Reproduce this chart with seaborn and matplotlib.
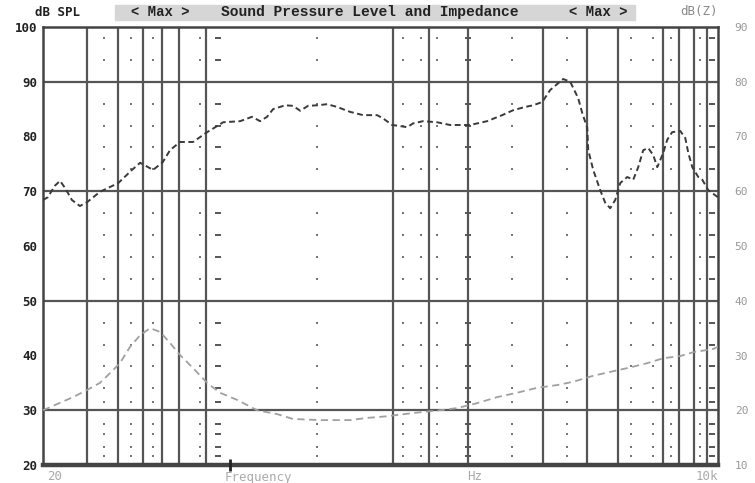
import numpy as np
import pandas as pd
import matplotlib
matplotlib.use("Agg")
import matplotlib.pyplot as plt
from matplotlib.patches import Rectangle
import seaborn as sns

# sound pressure level curve (Hz, dB)
spl_freq = [20, 20.9, 22.3, 23.4, 24.5, 26.1, 28.1, 30, 33.8, 40, 45.4, 48.9, 55.1,
            60.2, 64.4, 70.6, 79.6, 90.7, 99.3, 105, 122.8, 137, 147.6, 157.4, 166.4,
            185.9, 200, 213.4, 229.6, 250, 273.5, 300, 338, 381, 433.6, 458, 498,
            536, 571.5, 604, 662, 753, 849, 906, 1021, 1140, 1194, 1371, 1517, 1694,
            1824, 1982, 2134, 2404, 2565, 2760, 2865, 3000, 3028, 3170, 3381, 3540,
            3707, 3882, 4065, 4336, 4582, 4798, 5024, 5261, 5509, 5717, 6039, 6266,
            6561, 7067, 7400, 7608, 7893, 8341, 8655, 9142, 10000]
spl_db = [68.4, 68.9, 71.0, 71.9, 70.6, 68.4, 67.3, 68.0, 69.9, 71.5, 73.9, 75.2, 73.9,
          75.3, 77.5, 79.0, 79.0, 80.8, 81.9, 82.6, 82.8, 83.6, 82.8, 83.6, 85.0,
          85.7, 85.6, 84.7, 85.6, 85.7, 85.9, 85.4, 84.5, 83.9, 83.9, 83.3, 82.1,
          81.9, 81.7, 82.4, 82.8, 82.6, 82.1, 82.1, 82.1, 82.6, 82.8, 83.9, 84.8, 85.4,
          85.7, 86.3, 88.5, 90.5, 90.0, 87.0, 84.3, 81.6, 77.5, 73.9, 70.2, 67.9,
          66.9, 68.4, 71.5, 72.6, 72.1, 74.4, 77.5, 77.9, 76.6, 74.4, 77.0, 79.4,
          80.8, 81.0, 79.7, 77.0, 74.4, 72.6, 72.1, 70.2, 68.9]

# impedance curve (plotted on the same dB scale)
imp_freq = [20, 22.7, 26.4, 30, 33.8, 37.1, 40.6, 44.6, 48.9, 53.6, 58.8, 64.4, 70.6,
            79.6, 90.7, 102, 119.4, 143.6, 172.6, 200, 256.5, 338, 395.6, 475.4, 604,
            774, 906, 1089, 1309, 1574, 1892, 2275, 2636, 3170, 3707, 4336, 5213,
            6039, 7067, 7962, 9572, 10000]
imp_db = [30.0, 31.1, 32.4, 33.7, 35.0, 36.8, 38.6, 41.6, 43.7, 45.0, 44.3, 42.3, 40.1,
          37.7, 35.0, 33.2, 31.9, 30.0, 29.3, 28.4, 28.2, 28.2, 28.6, 28.9, 29.5,
          30.0, 30.4, 31.3, 32.4, 33.2, 34.1, 34.6, 35.2, 36.3, 37.0, 37.7, 38.6,
          39.5, 39.9, 40.6, 41.2, 41.6]

# grid as drawn by the analyser
grid_freqs = [30, 40, 50, 60, 70, 90, 500, 700, 1000, 2000, 3000, 4000, 6000, 7000, 8000, 9000]
grid_db = [90, 70, 50, 30]
dot_freqs = [35, 45, 55, 85, 250, 550, 650, 750, 1500, 2500, 4500, 5500, 6500, 8500]
dash_freqs = [100, 1000, 9500]
dot_db = [98, 94, 86, 82, 78, 74, 66, 62, 58, 54, 46, 42, 38, 34, 31.5, 27.5, 25.7, 23.3, 21.6]
left_ticks = [100, 90, 80, 70, 60, 50, 40, 30, 20]
right_labels = ["90", "80", "70", "60", "50", "40", "30", "20", "10"]
cursor_freq = 112

sns.set_style("white")
plt.rcParams['font.family'] = ['DejaVu Sans Mono', 'DejaVu Sans']

fig = plt.figure(figsize=(7.55, 4.83), dpi=100)
ax = fig.add_axes([43 / 755, 18 / 483, 675 / 755, 438 / 483])

grid_col = "#555555"
for f in grid_freqs:
    ax.axvline(f, color=grid_col, lw=1.6, zorder=1)
for d in grid_db:
    ax.axhline(d, color=grid_col, lw=1.6, zorder=1)

# dotted minor grid (dots at intersections)
dx, dy = np.meshgrid(dot_freqs, dot_db)
ax.scatter(dx.ravel(), dy.ravel(), s=2.5, marker='s', color="#777777", lw=0, zorder=1)
mx, my = np.meshgrid(dash_freqs, dot_db)
ax.scatter(mx.ravel(), my.ravel(), s=20, marker='_', color="#555555", lw=1.4, zorder=1)

spl = pd.DataFrame({"freq": spl_freq, "db": spl_db})
imp = pd.DataFrame({"freq": imp_freq, "db": imp_db})
sns.lineplot(data=spl, x="freq", y="db", ax=ax, color="#3a3a3a", lw=1.4,
             linestyle=(0, (3, 1.8)), zorder=3)
sns.lineplot(data=imp, x="freq", y="db", ax=ax, color="#a0a0a0", lw=1.3,
             linestyle=(0, (4, 2.5)), zorder=3)

ax.set_xscale("log")
ax.set_xlim(20, 10000)
ax.set_ylim(20, 100)
ax.set_xlabel("")
ax.set_ylabel("")
ax.set_xticks([])
ax.set_xticks([], minor=True)
ax.set_yticks(left_ticks)
ax.set_yticklabels([str(v) for v in left_ticks], fontsize=9, fontweight="bold", color="#222222")
ax.tick_params(axis="y", length=0, pad=4)
for side in ["left", "right", "top"]:
    ax.spines[side].set_color("#444444")
    ax.spines[side].set_linewidth(1.8)
ax.spines["bottom"].set_color("#444444")
ax.spines["bottom"].set_linewidth(3.2)

# cursor mark on the frequency axis
ax.plot([cursor_freq], [20], marker="|", markersize=9, mew=2, color="#222222",
        clip_on=False, zorder=5)

# right-hand impedance scale
ax2 = ax.twinx()
ax2.set_ylim(20, 100)
ax2.set_yticks(left_ticks)
ax2.set_yticklabels(right_labels, fontsize=8, color="#999999")
ax2.tick_params(axis="y", length=0, pad=12)
for s in ax2.spines.values():
    s.set_visible(False)

# header band
fig.patches.append(Rectangle((115 / 755, 1 - 20 / 483), 520 / 755, 15 / 483,
                             transform=fig.transFigure, color="#d6d6d6", zorder=0))
hy = 1 - 12 / 483
fig.text(35 / 755, hy, "dB SPL", fontsize=9, fontweight="bold", color="#222222", va="center")
fig.text(160 / 755, hy, "< Max >", fontsize=10, fontweight="bold", color="#222222",
         va="center", ha="center", family="Liberation Mono")
fig.text(370 / 755, hy, "Sound Pressure Level and Impedance", fontsize=10.5,
         fontweight="bold", color="#222222", va="center", ha="center", family="Liberation Mono")
fig.text(598 / 755, hy, "< Max >", fontsize=10, fontweight="bold", color="#222222",
         va="center", ha="center", family="Liberation Mono")
fig.text(718 / 755, hy, "dB(Z)", fontsize=9, color="#888888", va="center", ha="right")

by = 1 - 477 / 483
fig.text(47 / 755, by, "20", fontsize=9, color="#aaaaaa", va="center")
fig.text(258 / 755, by, "Frequency", fontsize=9, color="#aaaaaa", va="center", ha="center")
fig.text(475 / 755, by, "Hz", fontsize=9, color="#aaaaaa", va="center", ha="center")
fig.text(718 / 755, by, "10k", fontsize=9, color="#aaaaaa", va="center", ha="right")

fig.savefig("out.png", dpi=100)
